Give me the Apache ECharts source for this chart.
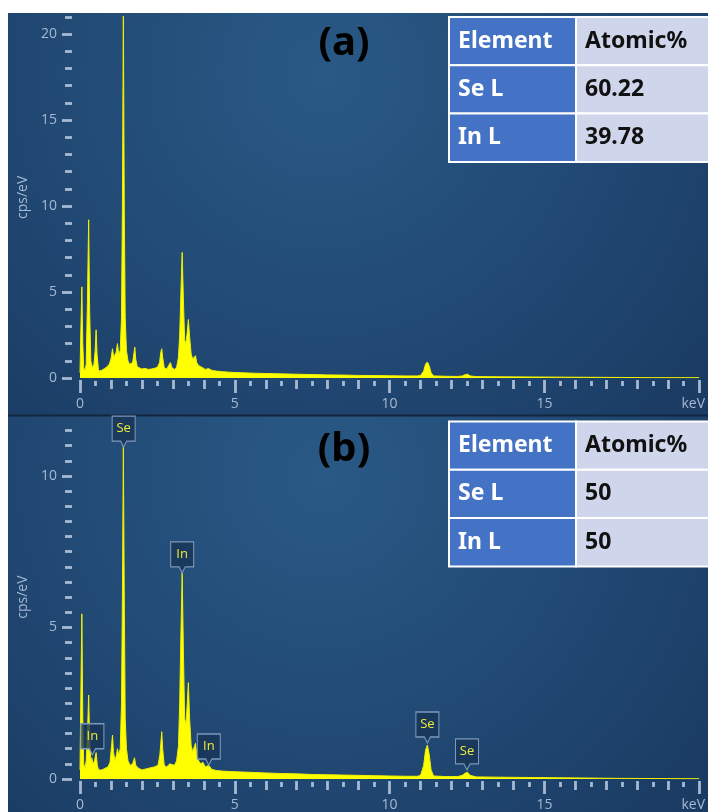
<!DOCTYPE html>
<html><head><meta charset="utf-8">
<script src="https://cdn.jsdelivr.net/npm/echarts@6/dist/echarts.min.js"></script>
<style>html,body{margin:0;padding:0;background:#fff}#c{width:708px;height:812px}</style>
</head><body><div id="c"></div><script>
// ---- Spectrum (a) ----
const keV_a = [0.00,0.03,0.06,0.09,0.12,0.16,0.20,0.24,0.28,0.31,0.35,0.40,0.45,0.49,0.52,0.55,0.60,0.65,0.70,0.75,0.80,0.85,0.90,0.95,1.00,1.05,1.09,1.13,1.17,1.21,1.25,1.30,1.34,1.37,1.40,1.43,1.46,1.50,1.55,1.60,1.65,1.70,1.74,1.77,1.80,1.85,1.90,2.00,2.10,2.20,2.30,2.40,2.50,2.57,2.61,2.64,2.67,2.72,2.80,2.86,2.92,2.97,3.05,3.12,3.18,3.22,3.26,3.30,3.34,3.38,3.42,3.46,3.50,3.54,3.59,3.64,3.69,3.73,3.77,3.83,3.90,3.95,4.05,4.15,4.25,4.40,4.60,4.80,5.00,5.30,5.60,6.00,6.50,7.00,7.50,8.00,8.50,9.00,9.50,10.00,10.50,10.90,11.00,11.10,11.16,11.22,11.28,11.34,11.42,11.80,12.20,12.35,12.45,12.52,12.60,12.80,13.50,14.50,15.50,16.50,17.50,18.50,20.00];
const cps_a = [0.3,3.0,5.3,2.0,0.6,0.4,0.8,4.5,9.2,4.0,1.0,0.6,0.8,1.6,2.8,1.4,0.4,0.35,0.45,0.5,0.55,0.62,0.7,0.82,1.1,1.7,1.2,1.1,1.5,2.0,1.4,1.6,3.5,10.0,21.5,10.0,3.5,1.6,1.0,0.8,0.7,0.9,1.4,1.8,1.1,0.65,0.58,0.52,0.56,0.5,0.52,0.56,0.62,0.9,1.5,1.7,1.2,0.6,0.52,0.62,0.9,0.6,0.5,0.62,1.2,2.5,5.0,7.3,4.5,2.2,2.0,2.6,3.4,2.4,1.4,1.1,1.0,1.3,0.9,0.72,0.66,0.56,0.5,0.55,0.45,0.4,0.37,0.34,0.32,0.3,0.28,0.26,0.24,0.22,0.2,0.18,0.17,0.15,0.14,0.13,0.12,0.12,0.15,0.4,0.8,0.93,0.7,0.3,0.12,0.1,0.09,0.12,0.2,0.22,0.12,0.08,0.07,0.06,0.05,0.04,0.03,0.02,0.02];
// ---- Spectrum (b) ----
const keV_b = [0.00,0.03,0.06,0.09,0.12,0.16,0.20,0.24,0.28,0.31,0.35,0.38,0.42,0.47,0.52,0.56,0.60,0.70,0.80,0.90,0.97,1.02,1.05,1.08,1.13,1.18,1.21,1.25,1.30,1.34,1.37,1.40,1.43,1.46,1.50,1.55,1.62,1.70,1.76,1.80,1.90,2.00,2.20,2.40,2.52,2.58,2.62,2.64,2.67,2.72,2.80,2.90,2.95,3.05,3.12,3.18,3.22,3.26,3.30,3.34,3.38,3.42,3.46,3.50,3.54,3.59,3.64,3.69,3.73,3.77,3.83,3.90,3.97,4.05,4.16,4.25,4.40,4.60,4.80,5.00,5.50,6.00,6.50,7.00,7.50,8.00,8.50,9.00,9.50,10.00,10.50,10.90,11.00,11.10,11.16,11.22,11.28,11.34,11.42,11.80,12.20,12.35,12.45,12.52,12.60,12.80,13.50,14.50,15.50,16.50,17.50,20.00];
const cps_b = [0.3,3.0,5.45,2.0,0.5,0.35,0.6,1.5,2.77,1.3,0.6,0.7,0.5,0.6,0.87,0.45,0.3,0.3,0.35,0.4,0.55,1.1,1.45,0.9,0.6,0.8,1.0,0.8,1.0,2.5,6.0,11.0,6.0,2.0,1.0,0.6,0.45,0.5,0.7,0.45,0.35,0.3,0.35,0.4,0.45,0.8,1.3,1.56,1.0,0.45,0.4,0.5,0.55,0.45,0.6,1.1,2.5,4.8,6.8,4.2,2.0,1.8,2.4,3.18,2.0,1.1,0.9,0.85,1.18,0.8,0.6,0.5,0.55,0.4,0.45,0.32,0.28,0.26,0.25,0.24,0.22,0.2,0.18,0.17,0.15,0.14,0.13,0.12,0.11,0.1,0.09,0.09,0.12,0.45,0.95,1.12,0.8,0.3,0.1,0.08,0.08,0.12,0.2,0.22,0.12,0.07,0.06,0.05,0.04,0.03,0.02,0.01];
// ---- Peak labels (b) ----
const peakNames = ['Se','In','In','In','Se','Se'];
const peakKeV   = [1.41,0.40,3.30,4.16,11.22,12.50];
const peakCps   = [10.95,0.8,6.8,0.46,1.19,0.3];
// ---- Tables ----
const tableHeader = ['Element','Atomic%'];
const tableElements = ['Se L','In L'];
const tableA_values = ['60.22','39.78'];
const tableB_values = ['50','50'];
const panelLabels = ['(a)','(b)'];
// ---- Ticks ----
const xMajorTicks = [0,5,10,15,20];
const xMidTicks = [1,2,3,4,6,7,8,9,11,12,13,14,16,17,18,19];
const xMinorTicks = [0.5,1.5,2.5,3.5,4.5,5.5,6.5,7.5,8.5,9.5,10.5,11.5,12.5,13.5,14.5,15.5,16.5,17.5,18.5,19.5];
const xLabels = [0,5,10,15,20];
const yA_major = [0,5,10,15,20];
const yA_minor = [1,2,3,4,6,7,8,9,11,12,13,14,16,17,18,19,21];
const yB_major = [0,5,10];
const yB_minor = [0.5,1,1.5,2,2.5,3,3.5,4,4.5,5.5,6,6.5,7,7.5,8,8.5,9,9.5,10.5,11,11.5];

const TICK = '#a6b9d2';
const FONT = '"Open Sans", "Noto Sans", sans-serif';

function xAxis(grid, ticks, len, labels, offset) {
  return {
    type: 'value', gridIndex: grid, min: 0, max: 20, offset: offset, position: 'bottom',
    axisLine: {show: false, onZero: false}, splitLine: {show: false},
    axisTick: {show: true, customValues: ticks, length: len, lineStyle: {color: TICK, width: 2.8}},
    axisLabel: labels ? {
      show: true, customValues: xLabels, margin: 17, color: TICK, fontSize: 14, fontFamily: FONT,
      formatter: v => v === 20 ? '{k|keV}' : String(v),
      rich: {k: {color: TICK, fontSize: 14, fontFamily: FONT, padding: [0, 12, 0, 0]}}
    } : {show: false}
  };
}
function yAxis(grid, max, ticks, len, labels) {
  return {
    type: 'value', gridIndex: grid, min: 0, max: max, offset: 8, position: 'left',
    axisLine: {show: false, onZero: false}, splitLine: {show: false},
    axisTick: {show: true, customValues: ticks, length: len, lineStyle: {color: TICK, width: 2.8}},
    axisLabel: labels ? {show: true, customValues: labels, margin: 15, color: TICK, fontSize: 14, fontFamily: FONT} : {show: false},
    name: labels ? 'cps/eV' : '', nameLocation: 'middle', nameGap: 40,
    nameTextStyle: {color: TICK, fontSize: 14, fontFamily: FONT}
  };
}

function table(top, values) {
  const rows = [tableHeader].concat(tableElements.map((e, i) => [e, values[i]]));
  const rh = 48.3, x0 = 449, xm = 576, x1 = 720;
  const els = [];
  rows.forEach((r, i) => {
    const y = top + i * rh;
    els.push({type: 'rect', shape: {x: x0, y: y, width: xm - x0, height: rh}, style: {fill: '#4472c4', stroke: '#ffffff', lineWidth: 2}});
    els.push({type: 'rect', shape: {x: xm, y: y, width: x1 - xm, height: rh}, style: {fill: '#cfd5ea', stroke: '#ffffff', lineWidth: 2}});
    els.push({type: 'text', x: x0 + 9, y: y + rh / 2, style: {text: r[0], fill: '#ffffff', font: 'bold 23px "Noto Sans", sans-serif', textVerticalAlign: 'middle'}});
    els.push({type: 'text', x: xm + 9, y: y + rh / 2, style: {text: r[1], fill: '#111111', font: 'bold 23px "Noto Sans", sans-serif', textVerticalAlign: 'middle'}});
  });
  return {type: 'group', z: 100, children: els};
}

const bgFill = {type: 'radial', x: 0.45, y: 0.15, r: 1.25, colorStops: [
  {offset: 0, color: '#2a5986'}, {offset: 0.55, color: '#214974'}, {offset: 1, color: '#1a3b62'}]};

const chart = echarts.init(document.getElementById('c'), null, {renderer: 'canvas'});
chart.setOption({
  animation: false,
  backgroundColor: '#ffffff',
  grid: [
    {left: 80, right: 6.3, top: 16.8, height: 361.2},
    {left: 80, right: 6.3, top: 415.3, height: 364}
  ],
  xAxis: [
    xAxis(0, xMajorTicks, 13, true, 2), xAxis(0, xMidTicks, 9, false, 2), xAxis(0, xMinorTicks, 5, false, 3),
    xAxis(1, xMajorTicks, 13, true, 2), xAxis(1, xMidTicks, 9, false, 2), xAxis(1, xMinorTicks, 5, false, 3)
  ],
  yAxis: [
    yAxis(0, 21, yA_major, 10, yA_major), yAxis(0, 21, yA_minor, 7, null),
    yAxis(1, 12, yB_major, 10, yB_major), yAxis(1, 12, yB_minor, 7, null)
  ],
  graphic: [
    {type: 'rect', z: -10, shape: {x: 8, y: 13, width: 700, height: 402}, style: {fill: bgFill}},
    {type: 'rect', z: -10, shape: {x: 8, y: 416, width: 700, height: 396}, style: {fill: bgFill}},
    {type: 'rect', z: -9, shape: {x: 8, y: 414.5, width: 700, height: 2}, style: {fill: '#12263f'}},
    {type: 'text', z: 100, x: 344, y: 44, style: {text: panelLabels[0], fill: '#000000', font: 'bold 40px "Noto Sans", sans-serif', textAlign: 'center', textVerticalAlign: 'middle'}},
    {type: 'text', z: 100, x: 344, y: 450, style: {text: panelLabels[1], fill: '#000000', font: 'bold 40px "Noto Sans", sans-serif', textAlign: 'center', textVerticalAlign: 'middle'}},
    table(17, tableA_values),
    table(421.5, tableB_values)
  ],
  series: [
    {type: 'line', xAxisIndex: 0, yAxisIndex: 0, data: keV_a.map((x, i) => [x, cps_a[i]]),
     symbol: 'none', lineStyle: {color: '#f0f000', width: 1}, areaStyle: {color: '#ffff00', opacity: 1}},
    {type: 'line', xAxisIndex: 3, yAxisIndex: 2, data: keV_b.map((x, i) => [x, cps_b[i]]),
     symbol: 'none', lineStyle: {color: '#f0f000', width: 1}, areaStyle: {color: '#ffff00', opacity: 1},
     markPoint: {
       symbol: 'path://M0,0L23,0L23,25L14.5,25L11.5,31L8.5,25L0,25Z',
       symbolSize: [23, 31], symbolOffset: [0, -15.5],
       itemStyle: {color: 'rgba(24,52,86,0.8)', borderColor: '#7d98ba', borderWidth: 1.2},
       label: {show: true, formatter: '{b}', color: '#ecec3c', fontSize: 13, fontFamily: FONT, offset: [0, -3]},
       data: peakNames.map((n, i) => ({name: n, coord: [peakKeV[i], peakCps[i]]}))
     }}
  ]
});
</script></body></html>
